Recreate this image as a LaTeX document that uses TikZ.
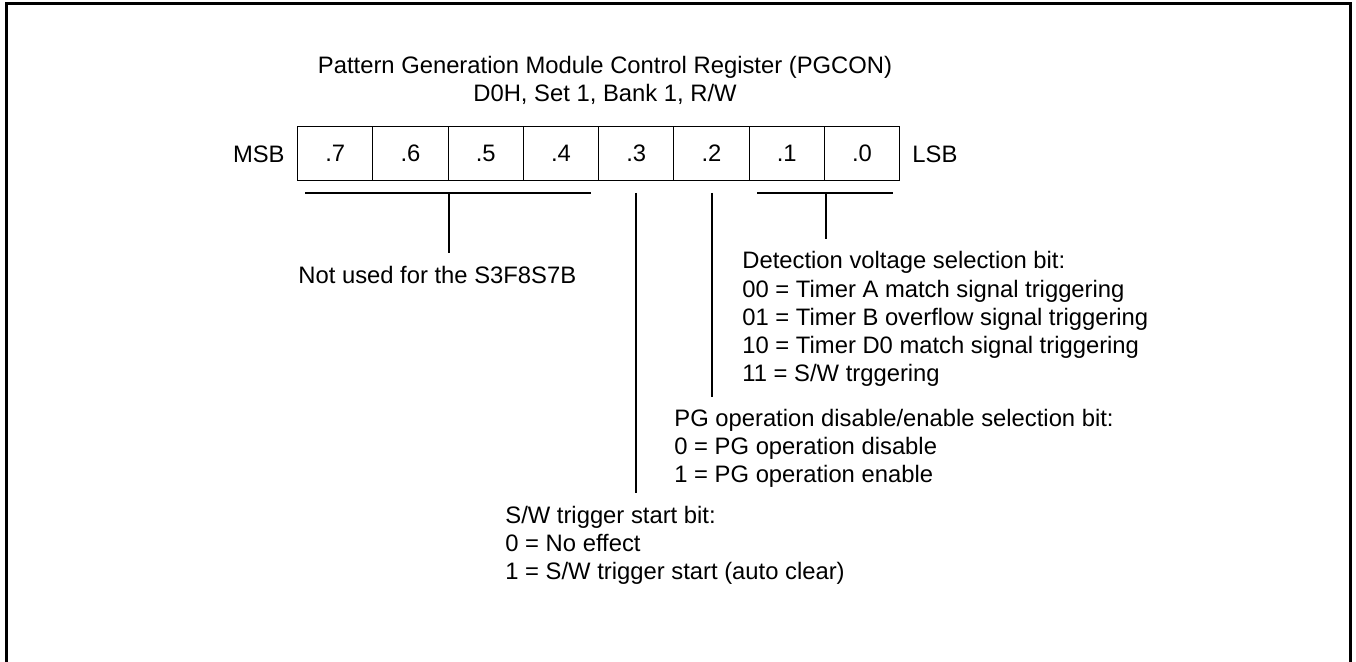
\documentclass[tikz,border=0pt]{standalone}
\usepackage{fontspec}
\setmainfont{Liberation Sans}
\definecolor{pgInk}{HTML}{000000}
\newcommand{\regfont}{\fontsize{11.9}{14.15}\selectfont}
\tikzset{
  pg frame/.style={draw=pgInk, line width=1.5pt},
  pg line/.style={draw=pgInk, line width=0.6pt},
  pg cell/.style={draw=pgInk, line width=0.6pt, minimum width=37.625pt, minimum height=27pt, inner sep=0pt, anchor=north west, font=\regfont},
  pg label/.style={inner sep=0pt, font=\regfont, text=pgInk},
  pg note/.style={pg label, align=left, anchor=base west},
}

\begin{document}
\begin{tikzpicture}[x=0.5pt,y=-0.5pt]
\useasboundingbox(0,0)rectangle(1356,662);
\draw[pg frame](6,662)--(6,4)--(1350,4)--(1350,662);
% base of a multi-line node = baseline of its last line
\node[pg label,align=center,anchor=base](title)at(605,102){Pattern Generation Module Control Register (PGCON)\\D0H, Set 1, Bank 1, R/W};
% register cells
\foreach \b [count=\k from 0] in {7,...,0}{\node[pg cell](c\b)at({297+\k*75.25},126){.\b};}
\node[pg label,anchor=base east](msb)at(285,163){MSB};
\node[pg label,anchor=base west](lsb)at(912,163){LSB};
% bit fields
\coordinate(g7)at(305,193);\coordinate(g4)at(591,193);
\coordinate(g74)at(449,193);\coordinate(n74)at(449,253);
\coordinate(g3)at(636,193);\coordinate(n3)at(636,493);
\coordinate(g2)at(712,193);\coordinate(n2)at(712,397);
\coordinate(g1)at(757,193);\coordinate(g0)at(893,193);
\coordinate(g10)at(826,193);\coordinate(n10)at(826,239);
\draw[pg line](g7)--(g4);\draw[pg line](g74)--(n74);
\draw[pg line](g3)--(n3);
\draw[pg line](g2)--(n2);
\draw[pg line](g1)--(g0);\draw[pg line](g10)--(n10);
% descriptions
\node[pg note](notused)at(298,284){Not used for the S3F8S7B};
\node[pg note](detsel)at(742,382){Detection voltage selection bit:\\00 = Timer A match signal triggering\\01 = Timer B overflow signal triggering\\10 = Timer D0 match signal triggering\\11 = S/W trggering};
\node[pg note](pgen)at(674,483){PG operation disable/enable selection bit:\\0 = PG operation disable\\1 = PG operation enable};
\node[pg note](swtrig)at(505,580){S/W trigger start bit:\\0 = No effect\\1 = S/W trigger start (auto clear)};
\end{tikzpicture}
\end{document}
